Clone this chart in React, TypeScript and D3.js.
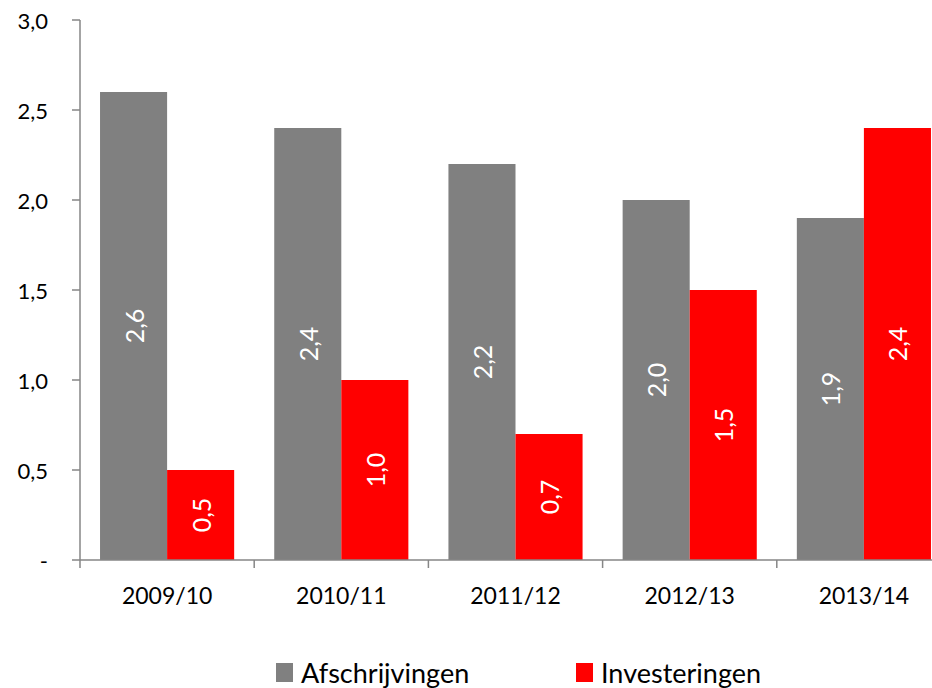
import React from "react";
import * as d3 from "d3";

const categories = ["2009/10", "2010/11", "2011/12", "2012/13", "2013/14"];
const afschrijvingen = [2.6, 2.4, 2.2, 2.0, 1.9];
const investeringen = [0.5, 1.0, 0.7, 1.5, 2.4];
const seriesNames = ["Afschrijvingen", "Investeringen"];
const seriesColors = ["#808080", "#FF0000"];
const yTicks = [0, 0.5, 1.0, 1.5, 2.0, 2.5, 3.0];

const fmt = (v: number) => (v === 0 ? "-" : v.toFixed(1).replace(".", ","));

export default function App() {
  const W = 932, H = 688;
  const x0 = 80, plotRight = 951, yTop = 20, yBottom = 560;
  const font = "Lato, 'Open Sans', sans-serif";
  const x = d3.scaleBand<string>().domain(categories).range([x0, plotRight]).paddingInner(0).paddingOuter(0);
  const bw = x.bandwidth();
  const inner = d3.scaleBand<number>().domain([0, 1]).range([bw * 0.115, bw * 0.885]).padding(0);
  const y = d3.scaleLinear().domain([0, 3]).range([yBottom, yTop]);
  const series = [afschrijvingen, investeringen];
  const axisColor = "#868686";

  return (
    <svg width={W} height={H} style={{ position: "absolute", left: 0, top: 0, background: "#fff" }}>
      {series.map((vals, si) =>
        vals.map((v, i) => {
          const bx = (x(categories[i]) as number) + (inner(si) as number);
          const w = inner.bandwidth();
          const by = y(v);
          const cx = bx + w / 2;
          const cy = (by + yBottom) / 2;
          return (
            <g key={`${si}-${i}`}>
              <rect x={bx} y={by} width={w} height={yBottom - by} fill={seriesColors[si]} />
              <text
                transform={`translate(${cx},${cy}) rotate(-90)`}
                textAnchor="middle"
                dominantBaseline="central"
                fill="#fff"
                fontFamily={font}
                fontSize={25}
              >
                {fmt(v)}
              </text>
            </g>
          );
        })
      )}
      {/* y axis */}
      <line x1={x0} x2={x0} y1={yTop} y2={yBottom} stroke={axisColor} strokeWidth={1.5} />
      {yTicks.map((t) => (
        <g key={t}>
          <line x1={x0 - 8} x2={x0} y1={y(t)} y2={y(t)} stroke={axisColor} strokeWidth={1.5} />
          <text x={48} y={y(t)} textAnchor="end" dominantBaseline="central" fontFamily={font} fontSize={22} fill="#000">
            {fmt(t)}
          </text>
        </g>
      ))}
      {/* x axis */}
      <line x1={x0} x2={W} y1={yBottom} y2={yBottom} stroke={axisColor} strokeWidth={1.5} />
      {categories.map((c, i) => (
        <g key={c}>
          <line x1={(x(c) as number)} x2={(x(c) as number)} y1={yBottom} y2={yBottom + 8} stroke={axisColor} strokeWidth={1.5} />
          <text
            x={(x(c) as number) + bw / 2}
            y={595}
            textAnchor="middle"
            dominantBaseline="central"
            fontFamily={font}
            fontSize={23}
            fill="#000"
          >
            {c}
          </text>
        </g>
      ))}
      {/* legend */}
      {seriesNames.map((n, i) => {
        const lx = i === 0 ? 276 : 576;
        return (
          <g key={n}>
            <rect x={lx} y={663} width={17} height={19} fill={seriesColors[i]} />
            <text x={lx + 25} y={672} dominantBaseline="central" fontFamily={font} fontSize={27} fill="#000">
              {n}
            </text>
          </g>
        );
      })}
    </svg>
  );
}
